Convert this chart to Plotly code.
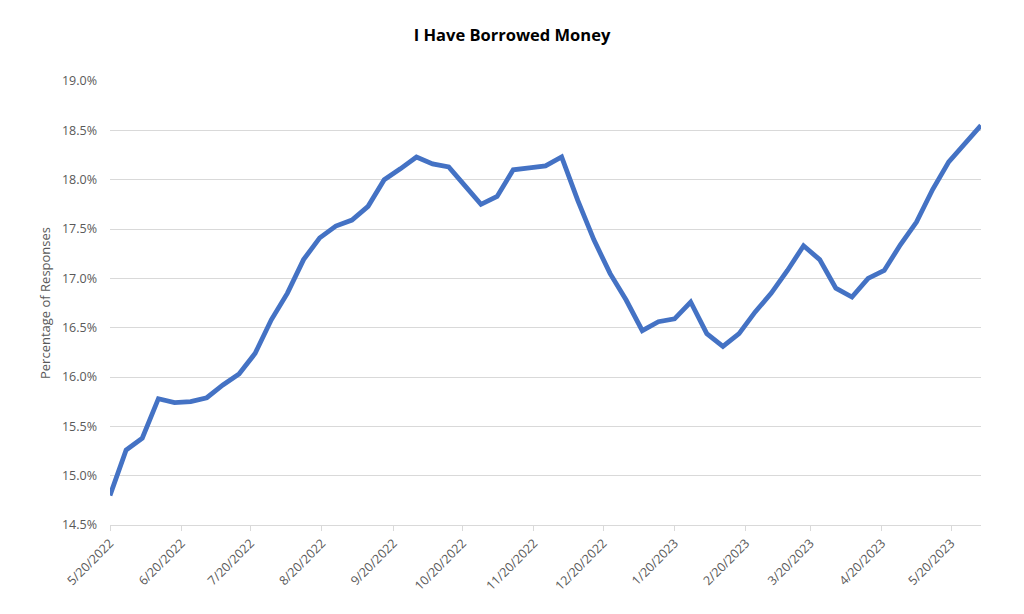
import plotly.graph_objects as go
from datetime import date, timedelta

start_date = "2022-05-20"
values = [
    14.80, 15.26, 15.38, 15.78, 15.74, 15.75, 15.79, 15.92, 16.03, 16.24,
    16.58, 16.85, 17.19, 17.41, 17.53, 17.59, 17.73, 18.00, 18.11, 18.23,
    18.16, 18.13, 17.94, 17.75, 17.83, 18.10, 18.12, 18.14, 18.23, 17.79,
    17.39, 17.05, 16.78, 16.47, 16.56, 16.59, 16.76, 16.44, 16.31, 16.44,
    16.66, 16.85, 17.08, 17.33, 17.19, 16.90, 16.81, 17.00, 17.08, 17.34,
    17.57, 17.90, 18.18, 18.36, 18.55,
]
tick_dates = [
    "2022-05-20", "2022-06-20", "2022-07-20", "2022-08-20", "2022-09-20",
    "2022-10-20", "2022-11-20", "2022-12-20", "2023-01-20", "2023-02-20",
    "2023-03-20", "2023-04-20", "2023-05-20",
]
tick_labels = [
    "5/20/2022", "6/20/2022", "7/20/2022", "8/20/2022", "9/20/2022",
    "10/20/2022", "11/20/2022", "12/20/2022", "1/20/2023", "2/20/2023",
    "3/20/2023", "4/20/2023", "5/20/2023",
]
y_ticks = [14.5, 15.0, 15.5, 16.0, 16.5, 17.0, 17.5, 18.0, 18.5, 19.0]

d0 = date.fromisoformat(start_date)
dates = [(d0 + timedelta(days=7 * i)).isoformat() for i in range(len(values))]

fig = go.Figure()
fig.add_trace(go.Scatter(
    x=dates, y=values, mode="lines",
    line=dict(color="#4472C4", width=4.8),
    hoverinfo="x+y",
))

font_family = "Open Sans, Liberation Sans, sans-serif"
W, H = 1008, 598
fig.update_layout(
    width=W, height=H,
    margin=dict(l=102, r=35, t=73, b=81),
    paper_bgcolor="white", plot_bgcolor="white",
    showlegend=False,
    title=dict(text="<b>I Have Borrowed Money</b>", x=0.5, xanchor="center",
               y=1 - 27 / H, yanchor="middle",
               font=dict(family=font_family, size=16.5, color="#000000")),
    font=dict(family=font_family, color="#595959"),
)
fig.update_xaxes(
    type="date",
    range=[dates[0], dates[-1]],
    tickvals=tick_dates, ticktext=tick_labels, tickangle=-45,
    tickfont=dict(size=12.5, color="#595959"),
    showgrid=False,
    showline=True, linecolor="#D9D9D9", linewidth=1,
    ticks="outside", ticklen=5, tickcolor="#D9D9D9", tickwidth=1,
    zeroline=False,
)
fig.update_yaxes(
    range=[14.5, 19.0],
    tickvals=y_ticks, ticktext=[f"{v:.1f}%" for v in y_ticks],
    tickfont=dict(size=12.5, color="#595959"),
    showgrid=True, gridcolor="#D9D9D9", gridwidth=1,
    zeroline=False, showline=False,
    ticklabelstandoff=12,
    title=dict(text="Percentage of Responses", standoff=8,
               font=dict(size=13, color="#595959")),
)

fig.write_html("out.html")
